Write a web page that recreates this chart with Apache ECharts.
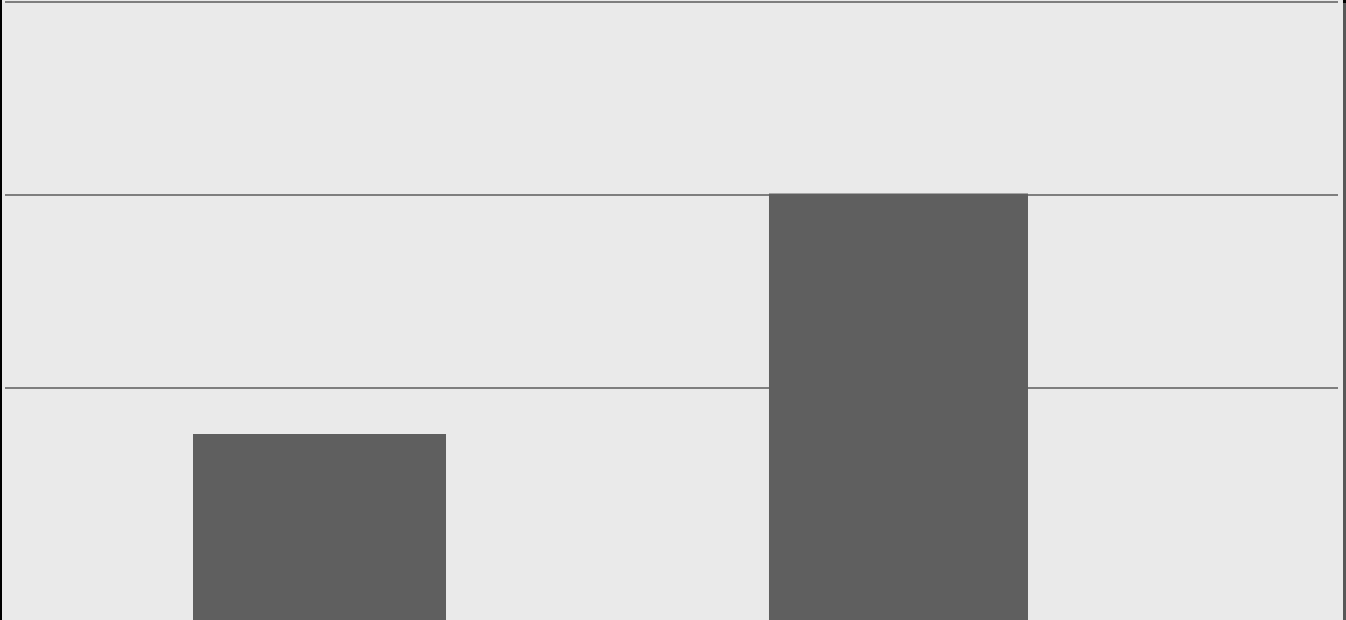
<!DOCTYPE html>
<html>
<head>
<meta charset="utf-8">
<script src="https://cdn.jsdelivr.net/npm/echarts@6/dist/echarts.min.js"></script>
<style>
    html, body { margin: 0; padding: 0; background: #000; }
    #frame {
        position: absolute; left: 0; top: 0;
        width: 1346px; height: 620px;
        background: #000;
    }
    #edge {
        position: absolute; left: 1343px; top: 3px;
        width: 3px; height: 617px;
        background: #585858;
    }
    #chart {
        position: absolute; left: 2px; top: 0;
        width: 1341px; height: 620px;
    }
</style>
</head>
<body>
<div id="frame"><div id="edge"></div><div id="chart"></div></div>
<script>
// bar positions on the x scale and their heights
const positions = [1, 2];
const values = [27.59, 40.05];
// horizontal reference lines sit on these y values
const yTicks = [30, 40, 50];

const myChart = echarts.init(document.querySelector('#chart'));

const hiddenX = {
    type: 'value',
    min: 0.4568,
    max: 2.7591,
    show: false,
    splitLine: { show: false }
};

const options = {
    backgroundColor: '#eaeaea',
    animation: false,
    grid: {
        left: 3,
        right: 5,
        top: 1.5,
        height: 386
    },
    xAxis: [hiddenX, Object.assign({}, hiddenX)],
    yAxis: {
        type: 'value',
        min: yTicks[0],
        max: yTicks[yTicks.length - 1],
        interval: yTicks[1] - yTicks[0],
        axisLine: { show: false },
        axisTick: { show: false },
        axisLabel: { show: false },
        splitLine: {
            show: true,
            lineStyle: { color: '#7f7f7f', width: 2 }
        }
    },
    // one series per bar, since the two bars differ in width
    series: [{
        type: 'bar',
        xAxisIndex: 0,
        clip: false,
        barWidth: 253,
        itemStyle: { color: '#5f5f5f' },
        data: [[positions[0], values[0]]]
    }, {
        type: 'bar',
        xAxisIndex: 1,
        clip: false,
        barWidth: 259,
        itemStyle: { color: '#5f5f5f' },
        data: [[positions[1], values[1]]]
    }]
};

myChart.setOption(options);
</script>
</body>
</html>
